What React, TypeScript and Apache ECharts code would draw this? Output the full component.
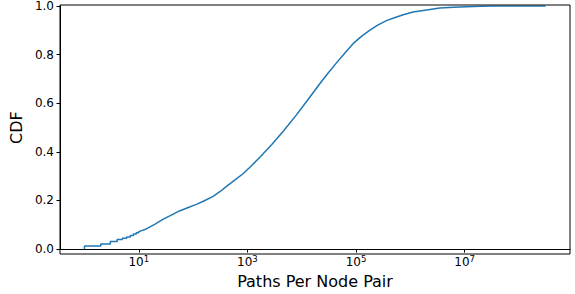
import React, { useEffect, useRef } from "react";
import * as echarts from "echarts";

// Discrete (step) part of the CDF at small path counts
const stepCounts = [1, 2, 3, 4, 5, 6, 7, 8, 9];
const stepCdf = [0.013, 0.021, 0.031, 0.039, 0.045, 0.050, 0.056, 0.062, 0.067];

// Smooth part of the CDF
const pathCounts = [
  10, 13.8, 20, 28.2, 39.8, 56.2, 79.4, 115, 158, 234, 316, 407, 575, 832, 1175,
  1698, 1950, 2818, 4571, 7943, 12589, 21380, 30200, 43650, 63100, 89125, 125900,
  177800, 251200, 363100, 524800, 741300, 1122000, 1995000, 3467000, 6310000,
  10720000, 19950000, 31620000, 309000000,
];
const cdfValues = [
  0.072, 0.083, 0.103, 0.123, 0.140, 0.157, 0.170, 0.184, 0.198, 0.217, 0.237,
  0.257, 0.283, 0.310, 0.342, 0.378, 0.392, 0.430, 0.485, 0.551, 0.610, 0.679,
  0.722, 0.766, 0.808, 0.846, 0.875, 0.900, 0.921, 0.940, 0.953, 0.964, 0.975,
  0.984, 0.992, 0.995, 0.997, 0.999, 1.0, 1.0,
];

const xTickExponents = [1, 3, 5, 7];
const yTicks = [0, 0.2, 0.4, 0.6, 0.8, 1.0];

export default function App() {
  const ref = useRef<HTMLDivElement>(null);
  useEffect(() => {
    if (!ref.current) return;
    const chart = echarts.init(ref.current, null, { renderer: "svg" });

    const data: number[][] = [];
    data.push([Math.log10(stepCounts[0]), 0]);
    for (let i = 0; i < stepCounts.length; i++) {
      const lx = Math.log10(stepCounts[i]);
      if (i > 0) data.push([lx, stepCdf[i - 1]]);
      data.push([lx, stepCdf[i]]);
    }
    data.push([Math.log10(pathCounts[0]), stepCdf[stepCdf.length - 1]]);
    for (let i = 0; i < pathCounts.length; i++) {
      data.push([Math.log10(pathCounts[i]), cdfValues[i]]);
    }

    const font = "DejaVu Sans";
    chart.setOption({
      animation: false,
      grid: { left: 60, right: 5, top: 5, bottom: 40, containLabel: false },
      xAxis: {
        type: "value",
        min: -0.45,
        max: 8.94,
        name: "Paths Per Node Pair",
        nameLocation: "middle",
        nameGap: 20,
        nameTextStyle: { fontFamily: font, fontSize: 16, color: "#000" },
        axisLine: { show: true, onZero: false, lineStyle: { color: "#000", width: 1 } },
        axisTick: {
          show: true,
          length: 3.5,
          lineStyle: { color: "#000" },
          customValues: xTickExponents,
        },
        axisLabel: {
          customValues: xTickExponents,
          margin: 5,
          formatter: (v: number) => `{b|10}{s|${Math.round(v)}}`,
          rich: {
            b: { fontFamily: font, fontSize: 12, color: "#000" },
            s: {
              fontFamily: font,
              fontSize: 8.5,
              color: "#000",
              verticalAlign: "bottom",
              padding: [0, 0, 7, 0],
            },
          },
        },
        splitLine: { show: false },
      },
      yAxis: {
        type: "value",
        min: 0,
        max: 1,
        interval: 0.2,
        name: "CDF",
        nameLocation: "middle",
        nameGap: 27,
        nameTextStyle: { fontFamily: font, fontSize: 16, color: "#000" },
        axisLine: { show: true, onZero: false, lineStyle: { color: "#000", width: 1 } },
        axisTick: { show: true, length: 3.5, lineStyle: { color: "#000" } },
        axisLabel: {
          margin: 6,
          fontFamily: font,
          fontSize: 12,
          color: "#000",
          formatter: (v: number) => v.toFixed(1),
          customValues: yTicks,
        },
        splitLine: { show: false },
      },
      graphic: [
        {
          type: "rect",
          shape: { x: 60, y: 5, width: 510, height: 249 },
          style: { fill: "none", stroke: "#000", lineWidth: 1 },
          silent: true,
          z: 10,
        },
      ],
      series: [
        {
          type: "line",
          data,
          showSymbol: false,
          symbol: "none",
          lineStyle: { color: "#1f77b4", width: 1.5 },
          z: 5,
        },
      ],
    });
    return () => chart.dispose();
  }, []);
  return (
    <div
      ref={ref}
      style={{ position: "absolute", left: 0, top: 0, width: 575, height: 294, background: "#fff" }}
    />
  );
}
